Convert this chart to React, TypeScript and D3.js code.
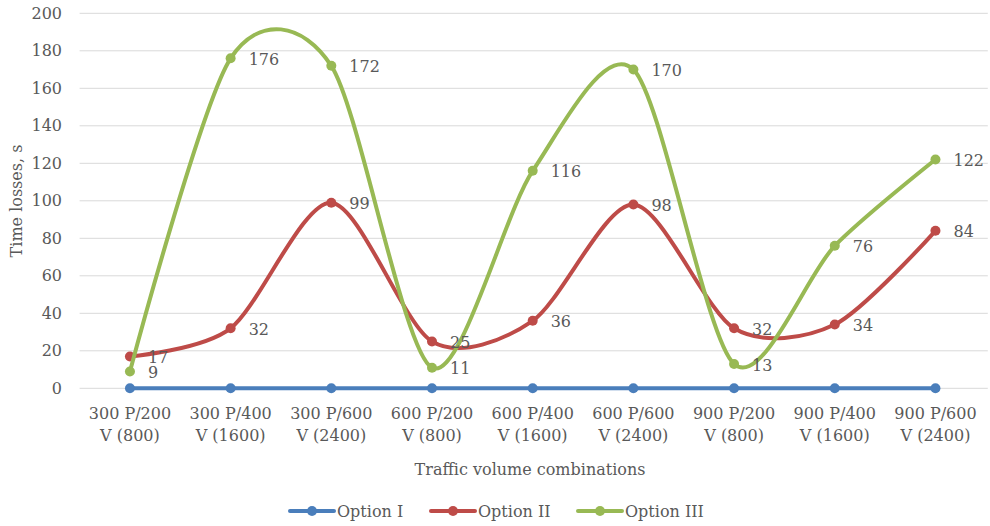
import React from "react";
import * as d3 from "d3";

const categories: string[][] = [
  ["300 P/200", "V (800)"],
  ["300 P/400", "V (1600)"],
  ["300 P/600", "V (2400)"],
  ["600 P/200", "V (800)"],
  ["600 P/400", "V (1600)"],
  ["600 P/600", "V (2400)"],
  ["900 P/200", "V (800)"],
  ["900 P/400", "V (1600)"],
  ["900 P/600", "V (2400)"],
];
const optionI = [0, 0, 0, 0, 0, 0, 0, 0, 0];
const optionII = [17, 32, 99, 25, 36, 98, 32, 34, 84];
const optionIII = [9, 176, 172, 11, 116, 170, 13, 76, 122];
const yTicks = [0, 20, 40, 60, 80, 100, 120, 140, 160, 180, 200];

const seriesList = [
  { name: "Option I", values: optionI, color: "#4A7EBB", labels: false },
  { name: "Option II", values: optionII, color: "#BE4B48", labels: true },
  { name: "Option III", values: optionIII, color: "#98B954", labels: true },
];

const W = 990;
const H = 526;
const left = 79.6;
const right = 985.8;
const top = 13.3;
const bottom = 388.3;
const FONT = "'DejaVu Serif', 'Liberation Serif', serif";
const TEXT = "#595959";

export default function App() {
  const x = d3
    .scaleBand<number>()
    .domain(categories.map((_, i) => i))
    .range([left, right]);
  const cx = (i: number) => (x(i) as number) + x.bandwidth() / 2;
  const y = d3.scaleLinear().domain([0, 200]).range([bottom, top]);
  const line = d3
    .line<number>()
    .x((_, i) => cx(i))
    .y((d) => y(d))
    .curve(d3.curveCardinal.tension(0.15));

  const legendItems = [
    { x: 290, name: "Option I", color: seriesList[0].color },
    { x: 431, name: "Option II", color: seriesList[1].color },
    { x: 578, name: "Option III", color: seriesList[2].color },
  ];

  return (
    <svg
      width={W}
      height={H}
      style={{ position: "absolute", left: 0, top: 0, background: "#fff" }}
      fontFamily={FONT}
    >
      {yTicks.map((t) => (
        <g key={t}>
          <line x1={left} x2={right + 2} y1={y(t)} y2={y(t)} stroke="#D9D9D9" strokeWidth={1} />
          <text x={62} y={y(t)} dy="0.35em" textAnchor="end" fontSize={16} fill={TEXT}>
            {t}
          </text>
        </g>
      ))}
      {categories.map((c, i) => (
        <text key={i} textAnchor="middle" fontSize={16} fill={TEXT}>
          <tspan x={cx(i)} y={419}>{c[0]}</tspan>
          <tspan x={cx(i)} y={441}>{c[1]}</tspan>
        </text>
      ))}
      <text
        transform={`translate(22, 201) rotate(-90)`}
        textAnchor="middle"
        fontSize={16}
        fill={TEXT}
      >
        Time losses, s
      </text>
      <text x={530} y={475} textAnchor="middle" fontSize={16} fill={TEXT}>
        Traffic volume combinations
      </text>
      {seriesList.map((s) => (
        <g key={s.name}>
          <path d={line(s.values) as string} fill="none" stroke={s.color} strokeWidth={4} strokeLinecap="round" />
          {s.values.map((v, i) => (
            <circle key={i} cx={cx(i)} cy={y(v)} r={5} fill={s.color} />
          ))}
        </g>
      ))}
      {seriesList
        .filter((s) => s.labels)
        .map((s) =>
          s.values.map((v, i) => (
            <text
              key={s.name + i}
              x={cx(i) + 18}
              y={y(v) + 1}
              dy="0.35em"
              fontSize={16}
              fill={TEXT}
            >
              {v}
            </text>
          ))
        )}
      {legendItems.map((l) => (
        <g key={l.name}>
          <line x1={l.x} x2={l.x + 44} y1={511} y2={511} stroke={l.color} strokeWidth={4} strokeLinecap="round" />
          <circle cx={l.x + 22} cy={511} r={5} fill={l.color} />
          <text x={l.x + 47} y={511} dy="0.35em" fontSize={16} fill={TEXT}>
            {l.name}
          </text>
        </g>
      ))}
    </svg>
  );
}
